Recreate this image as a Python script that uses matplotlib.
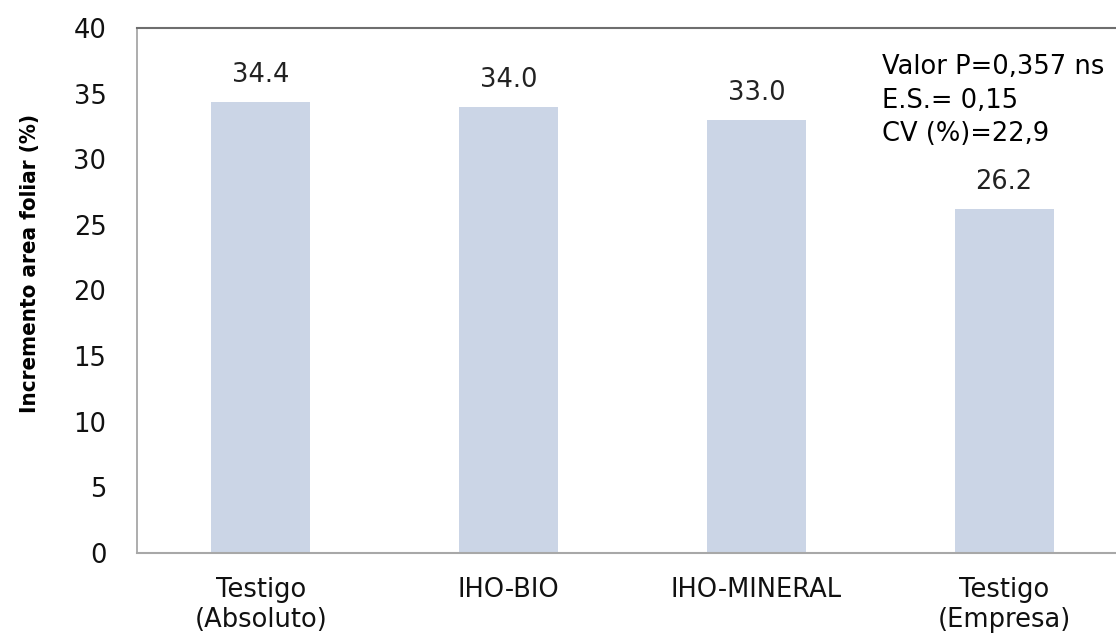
import matplotlib
matplotlib.use("Agg")
import matplotlib.pyplot as plt
import numpy as np

categories = ["Testigo\n(Absoluto)", "IHO-BIO", "IHO-MINERAL", "Testigo\n(Empresa)"]
values = [34.4, 34.0, 33.0, 26.2]
value_labels = ["34.4", "34.0", "33.0", "26.2"]
yticks = [0, 5, 10, 15, 20, 25, 30, 35, 40]
stats_text = "Valor P=0,357 ns\nE.S.= 0,15\nCV (%)=22,9"
ylabel = "Incremento area foliar (%)"

plt.rcParams['font.family'] = ['DejaVu Sans']

fig = plt.figure(figsize=(11.16, 6.35), dpi=100)
ax = fig.add_axes([137/1116, 82/635, 991/1116, 525/635])

x = np.arange(len(categories))
bars = ax.bar(x, values, width=0.4, color="#cbd5e6", zorder=2)

for xi, v, lab in zip(x, values, value_labels):
    ax.annotate(lab, (xi, v), xytext=(0, 10), textcoords="offset points",
                ha="center", va="bottom", fontsize=18.5, color="#222222")

ax.set_xlim(-0.5, 3.5)
ax.set_ylim(0, 40)
ax.set_yticks(yticks)
ax.set_yticklabels([str(t) for t in yticks], fontsize=18.5, color="#111111")
ax.set_xticks(x)
ax.set_xticklabels(categories, fontsize=18.5, color="#111111", linespacing=1.2)
ax.tick_params(axis="y", length=0, pad=22)
ax.tick_params(axis="x", length=0, pad=17)

ax.spines["right"].set_visible(False)
ax.spines["top"].set_color("#6e6e6e")
ax.spines["top"].set_linewidth(1.5)
ax.spines["left"].set_color("#a0a0a0")
ax.spines["left"].set_linewidth(1.2)
ax.spines["bottom"].set_color("#a8a8a8")
ax.spines["bottom"].set_linewidth(1.5)

ax.set_ylabel(ylabel, fontsize=16, fontweight="bold", fontstretch="condensed",
              family=["DejaVu Sans"])
ax.yaxis.set_label_coords(-0.098, 0.552)

ax.text(2.508, 38.0, stats_text, fontsize=18.5, ha="left", va="top",
        linespacing=1.38, color="#000000")

fig.savefig("out.png", dpi=100)
